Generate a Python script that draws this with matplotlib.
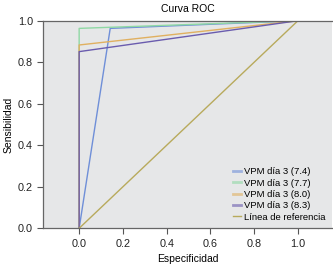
import matplotlib
matplotlib.use("Agg")
import matplotlib.pyplot as plt

plt.rcParams['font.family'] = ['Liberation Sans', 'DejaVu Sans']

series_labels = ["VPM día 3 (7.4)", "VPM día 3 (7.7)", "VPM día 3 (8.0)", "VPM día 3 (8.3)"]
series_x = [[0.0, 0.142, 1.0], [0.0, 0.0, 1.0], [0.0, 0.0, 1.0], [0.0, 0.0, 1.0]]
series_y = [[0.0, 0.963, 1.0], [0.0, 0.963, 1.0], [0.0, 0.883, 1.0], [0.0, 0.851, 1.0]]
series_colors = ["#6f8fd8", "#8fd8a4", "#e0b060", "#6a5cae"]
ref_label = "Línea de referencia"
ref_x = [0.0, 1.0]
ref_y = [0.0, 1.0]
ref_color = "#b8aa5c"

fig = plt.figure(figsize=(3.33, 2.67), dpi=100)
ax = fig.add_axes([0.1306, 0.145, 0.866, 0.7775])
ax.set_facecolor("#e6e7e8")

for xs, ys, c, lab in zip(series_x, series_y, series_colors, series_labels):
    ax.plot(xs, ys, color=c, lw=1.0, label=lab)
ax.plot(ref_x, ref_y, color=ref_color, lw=1.0, label=ref_label)

ax.set_xlim(-0.163, 1.155)
ax.set_ylim(0, 1.0)
ax.set_xticks([0.0, 0.2, 0.4, 0.6, 0.8, 1.0])
ax.set_yticks([0.0, 0.2, 0.4, 0.6, 0.8, 1.0])
ax.xaxis.set_major_formatter(matplotlib.ticker.FormatStrFormatter('%.1f'))
ax.yaxis.set_major_formatter(matplotlib.ticker.FormatStrFormatter('%.1f'))
ax.tick_params(labelsize=7.8, length=4, width=0.8, colors="#555555", labelcolor="#222222")
for s in ['left', 'bottom', 'top']:
    ax.spines[s].set_color("#666666")
    ax.spines[s].set_linewidth(0.9)
ax.spines['right'].set_visible(False)

ax.set_title("Curva ROC", fontsize=7.5, pad=6)
ax.set_xlabel("Especificidad", fontsize=7.5, labelpad=3.5)
ax.set_ylabel("Sensibilidad", fontsize=7.5, labelpad=3)

leg = ax.legend(loc="lower right", fontsize=6.8, frameon=False, handlelength=0.8,
                handletextpad=0.3, labelspacing=0.25, borderaxespad=0.3)
for h, c in zip(leg.get_lines()[:4], series_colors):
    h.set_linewidth(2.0)
    h.set_alpha(0.6)

fig.savefig("out.png", dpi=100)
